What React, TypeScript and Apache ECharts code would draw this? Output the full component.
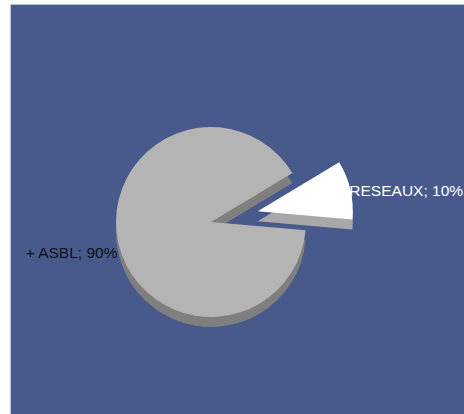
import React, { useEffect, useRef } from "react";
import * as echarts from "echarts";

const categories = ["RESEAUX", "+ ASBL"];
const values = [10, 90];
const exploded = [true, false];
const topColors = ["#FFFFFF", "#B4B4B4"];
const sideColors = ["#A8A8A8", "#7F7F7F"];
const labelColors = ["#FFFFFF", "#111111"];

export default function App() {
  const ref = useRef<HTMLDivElement>(null);
  useEffect(() => {
    if (!ref.current) return;
    const chart = echarts.init(ref.current, undefined, { renderer: "svg" });
    const base = {
      type: "pie",
      radius: 95,
      startAngle: 31,
      clockwise: true,
      selectedMode: "multiple",
      selectedOffset: 48,
      avoidLabelOverlap: false,
      animation: false,
      silent: true,
    };
    chart.setOption({
      animation: false,
      graphic: [
        {
          type: "rect",
          z: -10,
          shape: { x: 10.5, y: 4.5, width: 470, height: 420 },
          style: { fill: "#475A8B", stroke: "#B9C1D4", lineWidth: 1 },
        },
      ],
      series: [
        {
          ...base,
          name: "side",
          center: [211, 232],
          z: 1,
          label: { show: false },
          labelLine: { show: false },
          data: categories.map((c, i) => ({
            name: c,
            value: values[i],
            selected: exploded[i],
            itemStyle: { color: sideColors[i] },
            select: { itemStyle: { color: sideColors[i] } },
          })),
        },
        {
          ...base,
          name: "top",
          center: [211, 222],
          z: 2,
          label: {
            show: true,
            position: "outside",
            fontFamily: "Liberation Sans",
            fontSize: 15.5,
            distanceToLabelLine: 1,
            formatter: (p: any) => `${p.name}; ${Math.round(p.percent)}%`,
          },
          labelLine: { show: false, length: 0, length2: 0 },
          labelLayout: (p: any) => (p.dataIndex === 1 ? { dy: 9 } : { dy: 1, dx: -2 }),
          data: categories.map((c, i) => ({
            name: c,
            value: values[i],
            selected: exploded[i],
            itemStyle: { color: topColors[i] },
            select: { itemStyle: { color: topColors[i] }, label: { color: labelColors[i] } },
            label: { color: labelColors[i] },
          })),
        },
      ],
    });
    return () => chart.dispose();
  }, []);
  return (
    <div
      ref={ref}
      style={{ position: "fixed", left: 0, top: 0, width: 464, height: 414, background: "#FFFFFF" }}
    />
  );
}
